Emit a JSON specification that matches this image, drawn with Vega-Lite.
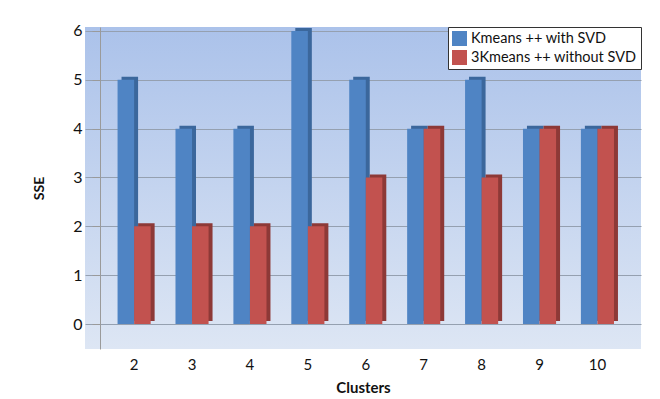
{
  "$schema": "https://vega.github.io/schema/vega-lite/v6.json",
  "width": 556,
  "height": 322,
  "autosize": {"type": "none"},
  "padding": {"left": 85, "top": 27, "right": 19, "bottom": 50},
  "background": "#ffffff",
  "config": {
    "font": "Lato",
    "view": {
      "stroke": null,
      "fill": {
        "gradient": "linear",
        "x1": 0, "y1": 0, "x2": 0, "y2": 1,
        "stops": [
          {"offset": 0, "color": "#abc2ea"},
          {"offset": 1, "color": "#dde6f4"}
        ]
      }
    },
    "axis": {"labelFont": "Lato", "titleFont": "Lato", "labelColor": "#111111", "titleColor": "#111111"}
  },
  "data": {
    "values": [
      {"clusters": "2", "series": "Kmeans ++ with SVD", "sse": 5},
      {"clusters": "2", "series": "3Kmeans ++ without SVD", "sse": 2},
      {"clusters": "3", "series": "Kmeans ++ with SVD", "sse": 4},
      {"clusters": "3", "series": "3Kmeans ++ without SVD", "sse": 2},
      {"clusters": "4", "series": "Kmeans ++ with SVD", "sse": 4},
      {"clusters": "4", "series": "3Kmeans ++ without SVD", "sse": 2},
      {"clusters": "5", "series": "Kmeans ++ with SVD", "sse": 6},
      {"clusters": "5", "series": "3Kmeans ++ without SVD", "sse": 2},
      {"clusters": "6", "series": "Kmeans ++ with SVD", "sse": 5},
      {"clusters": "6", "series": "3Kmeans ++ without SVD", "sse": 3},
      {"clusters": "7", "series": "Kmeans ++ with SVD", "sse": 4},
      {"clusters": "7", "series": "3Kmeans ++ without SVD", "sse": 4},
      {"clusters": "8", "series": "Kmeans ++ with SVD", "sse": 5},
      {"clusters": "8", "series": "3Kmeans ++ without SVD", "sse": 3},
      {"clusters": "9", "series": "Kmeans ++ with SVD", "sse": 4},
      {"clusters": "9", "series": "3Kmeans ++ without SVD", "sse": 4},
      {"clusters": "10", "series": "Kmeans ++ with SVD", "sse": 4},
      {"clusters": "10", "series": "3Kmeans ++ without SVD", "sse": 4}
    ]
  },
  "encoding": {
    "x": {
      "field": "clusters",
      "type": "ordinal",
      "sort": ["2", "3", "4", "5", "6", "7", "8", "9", "10"],
      "scale": {"paddingInner": 0, "paddingOuter": 0.3, "align": 0.58},
      "axis": {
        "title": "Clusters",
        "titleFontWeight": "bold",
        "titleFontSize": 15,
        "titlePadding": 8,
        "labelAngle": 0,
        "labelFontSize": 15,
        "labelPadding": 8,
        "ticks": false,
        "domain": false,
        "grid": false
      }
    },
    "y": {
      "field": "sse",
      "type": "quantitative",
      "scale": {"domain": [-0.51, 6.08], "nice": false, "zero": false},
      "axis": {
        "title": "SSE",
        "titleFontWeight": "bold",
        "titleFontSize": 14,
        "titlePadding": 26,
        "values": [0, 1, 2, 3, 4, 5, 6],
        "labelFontSize": 16,
        "labelPadding": 10,
        "tickSize": 8,
        "tickColor": "#9a9a9a",
        "domainColor": "#9a9a9a",
        "gridColor": "#95a0b0",
        "gridWidth": 1,
        "offset": -15
      }
    }
  },
  "layer": [
    {
      "mark": {"type": "bar", "yOffset": -3},
      "encoding": {
        "xOffset": {
          "field": "series",
          "sort": ["Kmeans ++ with SVD", "3Kmeans ++ without SVD"],
          "scale": {"paddingInner": 0, "paddingOuter": 0.75, "align": 0.66}
        },
        "color": {
          "field": "series",
          "sort": ["Kmeans ++ with SVD", "3Kmeans ++ without SVD"],
          "scale": {"range": ["#3b679c", "#8d3937"]},
          "legend": null
        }
      }
    },
    {
      "mark": {"type": "bar"},
      "encoding": {
        "xOffset": {
          "field": "series",
          "sort": ["Kmeans ++ with SVD", "3Kmeans ++ without SVD"],
          "scale": {"paddingInner": 0, "paddingOuter": 0.75, "align": 0.5}
        },
        "color": {
          "field": "series",
          "sort": ["Kmeans ++ with SVD", "3Kmeans ++ without SVD"],
          "scale": {"range": ["#4f84c4", "#c2524f"]},
          "legend": {
            "title": null,
            "orient": "top-right",
            "offset": 0,
            "fillColor": "#ffffff",
            "strokeColor": "#333333",
            "padding": 4,
            "rowPadding": 3,
            "symbolType": "square",
            "symbolSize": 225,
            "symbolStrokeWidth": 0,
            "labelFontSize": 14.5,
            "labelColor": "#111111",
            "labelLimit": 300
          }
        }
      }
    }
  ],
  "resolve": {"scale": {"color": "independent", "xOffset": "independent"}}
}
